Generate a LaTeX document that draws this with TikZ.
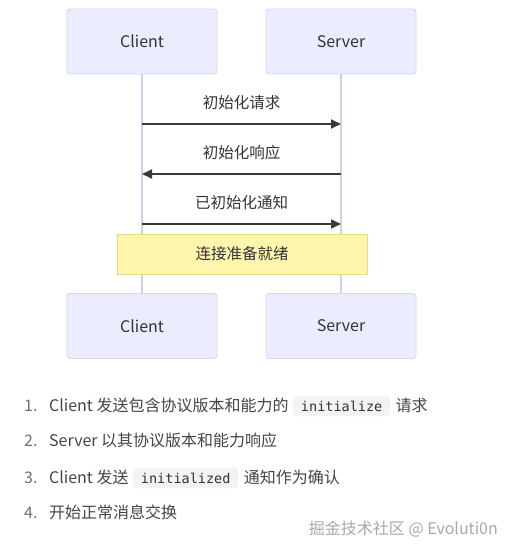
\documentclass[tikz,border=0pt]{standalone}
\usepackage{fontspec}
\setmainfont{Noto Sans CJK SC}
\setmonofont{DejaVu Sans Mono}
\usepackage{xcolor}
\usetikzlibrary{arrows.meta,positioning}
\definecolor{actorFill}{HTML}{ECECFF}
\definecolor{actorLine}{HTML}{D6D6F2}
\definecolor{lifeLine}{HTML}{D2D0E6}
\definecolor{noteFill}{HTML}{FFF5AD}
\definecolor{noteLine}{HTML}{E2DA86}
\definecolor{msgLine}{HTML}{3A3A3A}
\definecolor{textDark}{HTML}{333333}
\definecolor{listText}{HTML}{454545}
\definecolor{listNum}{HTML}{707070}
\definecolor{chipFill}{HTML}{F3F3F6}
\definecolor{markGrey}{HTML}{A8A8A8}

\begin{document}
\begin{tikzpicture}[x=1pt,y=-1pt,
    actor/.style={draw=actorLine,fill=actorFill,rounded corners=3pt,line width=0.9pt,
                  minimum width=150pt,minimum height=65pt,font=\fontsize{16}{18}\selectfont,text=textDark},
    life/.style={draw=lifeLine,line width=1.6pt},
    msg/.style={draw=msgLine,line width=1.8pt,-{Triangle[length=10pt,width=9pt]}},
    msglabel/.style={font=\fontsize{15.5}{18}\selectfont,text=textDark},
    note/.style={draw=noteLine,fill=noteFill,line width=0.9pt,
                 minimum width=250pt,minimum height=40pt,font=\fontsize{15.5}{18}\selectfont,text=textDark},
    item/.style={inner sep=0pt,font=\fontsize{16}{18}\selectfont,text=listText},
    num/.style={inner sep=0pt,font=\fontsize{16}{18}\selectfont,text=listNum},
    chip/.style={fill=chipFill,rounded corners=4pt,inner xsep=8pt,inner ysep=5pt,
                 font=\fontsize{13.5}{16}\ttfamily,text=textDark}]
\useasboundingbox (0,0) rectangle (514,551);
% actors
\node[actor] (clientTop) at (142,41.5) {Client};
\node[actor] (serverTop) at (341,41.5) {Server};
\node[actor] (clientBot) at (142,326) {Client};
\node[actor] (serverBot) at (341,326) {Server};
% lifelines
\draw[life] (clientTop) -- (clientBot);
\draw[life] (serverTop) -- (serverBot);
% messages
\coordinate (c1) at (142,124);
\coordinate (s1) at (341,124);
\coordinate (c2) at (142,174);
\coordinate (s2) at (341,174);
\coordinate (c3) at (142,224);
\coordinate (s3) at (341,224);
\draw[msg] (c1) -- (s1) node[msglabel,midway,yshift=21pt] (m1) {初始化请求};
\draw[msg] (s2) -- (c2) node[msglabel,midway,yshift=21pt] (m2) {初始化响应};
\draw[msg] (c3) -- (s3) node[msglabel,midway,yshift=21pt] (m3) {已初始化通知};
% note
\node[note] (ready) at (242,254) {连接准备就绪};
% steps
\node[num,anchor=base west] (n1) at (24,411) {1.};
\node[item,anchor=base west] (t1) at (49,411) {Client 发送包含协议版本和能力的};
\node[chip,base right=4pt of t1] (k1) {initialize};
\node[item,base right=5pt of k1] (u1) {请求};
\node[num,anchor=base west] (n2) at (24,446) {2.};
\node[item,anchor=base west] (t2) at (49,446) {Server 以其协议版本和能力响应};
\node[num,anchor=base west] (n3) at (24,483) {3.};
\node[item,anchor=base west] (t3) at (49,483) {Client 发送};
\node[chip,base right=4pt of t3] (k3) {initialized};
\node[item,base right=5pt of k3] (u3) {通知作为确认};
\node[num,anchor=base west] (n4) at (24,518) {4.};
\node[item,anchor=base west] (t4) at (49,518) {开始正常消息交换};
% watermark
\node[item,text=markGrey,anchor=base east] (mark) at (498,534) {掘金技术社区 @ Evoluti0n};
\end{tikzpicture}
\end{document}
